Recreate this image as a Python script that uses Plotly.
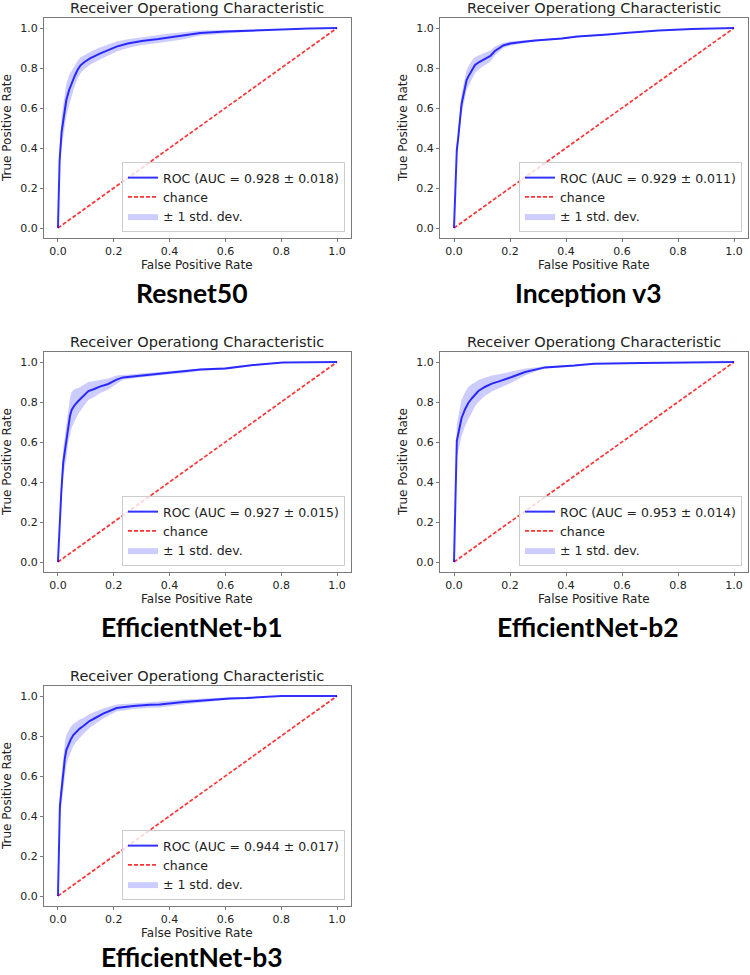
import plotly.graph_objects as go

# ---------------- data ----------------
models = ["Resnet50", "Inception v3", "EfficientNet-b1", "EfficientNet-b2", "EfficientNet-b3"]
roc_labels = [
    "ROC (AUC = 0.928 ± 0.018)",
    "ROC (AUC = 0.929 ± 0.011)",
    "ROC (AUC = 0.927 ± 0.015)",
    "ROC (AUC = 0.953 ± 0.014)",
    "ROC (AUC = 0.944 ± 0.017)",
]
chance_fpr = [0.0, 1.0]
chance_tpr = [0.0, 1.0]

fpr_resnet50 = [0, 0.006, 0.013, 0.02, 0.03, 0.04, 0.05, 0.06, 0.07, 0.08, 0.095, 0.115, 0.15, 0.18,
                0.21, 0.25, 0.3, 0.36, 0.4, 0.45, 0.51, 0.6, 0.7, 0.8, 0.9, 1.0]
tpr_resnet50 = [0, 0.34, 0.48, 0.55, 0.64, 0.69, 0.73, 0.76, 0.79, 0.812, 0.83, 0.848, 0.872, 0.89,
                0.907, 0.922, 0.935, 0.945, 0.952, 0.962, 0.975, 0.982, 0.988, 0.994, 0.998, 1.0]
std_resnet50 = [0, 0.04, 0.08, 0.08, 0.08, 0.075, 0.06, 0.05, 0.045, 0.04, 0.035, 0.032, 0.03, 0.027,
                0.025, 0.022, 0.02, 0.02, 0.02, 0.018, 0.012, 0.008, 0.005, 0.003, 0.002, 0]

fpr_inception = [0, 0.005, 0.01, 0.015, 0.021, 0.027, 0.033, 0.045, 0.051, 0.065, 0.075, 0.09, 0.11,
                 0.13, 0.146, 0.165, 0.176, 0.2, 0.22, 0.242, 0.29, 0.325, 0.385, 0.44, 0.48, 0.55,
                 0.61, 0.73, 0.85, 1.0]
tpr_inception = [0, 0.2, 0.39, 0.45, 0.54, 0.62, 0.66, 0.74, 0.757, 0.795, 0.815, 0.83, 0.845,
                 0.86, 0.885, 0.905, 0.913, 0.922, 0.927, 0.93, 0.937, 0.94, 0.948, 0.957, 0.96, 0.968,
                 0.975, 0.987, 0.995, 1.0]
std_inception = [0, 0.02, 0.03, 0.04, 0.045, 0.05, 0.05, 0.05, 0.05, 0.045, 0.04, 0.035, 0.032,
                 0.028, 0.022, 0.016, 0.013, 0.011, 0.01, 0.008, 0.005, 0.004, 0.004, 0.004, 0.004, 0.003,
                 0.003, 0.002, 0.002, 0]

fpr_effb1 = [0, 0.006, 0.012, 0.019, 0.025, 0.03, 0.037, 0.043, 0.049, 0.06, 0.073, 0.09, 0.109, 0.13,
             0.15, 0.18, 0.21, 0.233, 0.28, 0.33, 0.41, 0.45, 0.51, 0.6, 0.7, 0.806, 1.0]
tpr_effb1 = [0, 0.21, 0.35, 0.5, 0.56, 0.6, 0.69, 0.73, 0.76, 0.785, 0.805, 0.83, 0.855, 0.865,
             0.877, 0.89, 0.912, 0.923, 0.93, 0.937, 0.948, 0.952, 0.962, 0.968, 0.985, 0.998, 1.0]
std_effb1 = [0, 0.03, 0.05, 0.07, 0.08, 0.085, 0.09, 0.09, 0.09, 0.08, 0.065, 0.055, 0.045, 0.04,
             0.033, 0.028, 0.02, 0.012, 0.01, 0.008, 0.008, 0.008, 0.006, 0.006, 0.004, 0.002, 0]

fpr_effb2 = [0, 0.005, 0.01, 0.018, 0.027, 0.04, 0.051, 0.065, 0.075, 0.087, 0.11, 0.135, 0.158, 0.194,
             0.206, 0.254, 0.29, 0.325, 0.43, 0.48, 0.5, 0.67, 0.85, 0.95, 1.0]
tpr_effb2 = [0, 0.3, 0.605, 0.66, 0.72, 0.765, 0.795, 0.82, 0.837, 0.855, 0.875, 0.892, 0.902, 0.918,
             0.925, 0.95, 0.962, 0.973, 0.982, 0.99, 0.991, 0.995, 0.997, 1.0, 1.0]
std_effb2 = [0, 0.04, 0.08, 0.09, 0.09, 0.085, 0.08, 0.07, 0.06, 0.055, 0.045, 0.04, 0.035, 0.03,
             0.028, 0.018, 0.01, 0.006, 0.004, 0.003, 0.003, 0.002, 0.002, 0, 0]

fpr_effb3 = [0, 0.007, 0.012, 0.019, 0.025, 0.03, 0.037, 0.045, 0.055, 0.065, 0.078, 0.091, 0.113,
             0.127, 0.162, 0.21, 0.27, 0.33, 0.364, 0.45, 0.556, 0.616, 0.675, 0.76, 0.8, 1.0]
tpr_effb3 = [0, 0.45, 0.52, 0.62, 0.69, 0.73, 0.758, 0.78, 0.805, 0.82, 0.837, 0.85, 0.875,
             0.885, 0.912, 0.94, 0.95, 0.956, 0.958, 0.97, 0.982, 0.988, 0.99, 0.998, 1.0, 1.0]
std_effb3 = [0, 0.05, 0.07, 0.08, 0.08, 0.075, 0.07, 0.065, 0.055, 0.05, 0.045, 0.04, 0.035,
             0.032, 0.025, 0.018, 0.015, 0.015, 0.015, 0.012, 0.008, 0.006, 0.004, 0.002, 0, 0]

tick_vals = [0.0, 0.2, 0.4, 0.6, 0.8, 1.0]

series = [
    (fpr_resnet50, tpr_resnet50, std_resnet50),
    (fpr_inception, tpr_inception, std_inception),
    (fpr_effb1, tpr_effb1, std_effb1),
    (fpr_effb2, tpr_effb2, std_effb2),
    (fpr_effb3, tpr_effb3, std_effb3),
]

# ---------------- layout geometry (pixels) ----------------
W, H = 750, 975
col_x = [(44, 351), (440, 748)]
row_y = [(18, 238), (352, 572), (686, 906)]
name_offset = [55, 55, 51]
grid_pos = [(0, 0), (0, 1), (1, 0), (1, 1), (2, 0)]
name_cx = [192, 588]

TXT = "#222222"
FONT = "DejaVu Sans"


def px_x(v):
    return v / W


def px_y(v):
    return 1 - v / H


fig = go.Figure()
annotations = []
layout_axes = {}

for i, (model, label, (fpr, tpr, std)) in enumerate(zip(models, roc_labels, series)):
    r, c = grid_pos[i]
    sfx = "" if i == 0 else str(i + 1)
    xa, ya = "x" + sfx, "y" + sfx
    leg = "legend" if i == 0 else f"legend{i + 1}"

    upper = [min(t + s, 1.0) for t, s in zip(tpr, std)]
    lower = [max(t - s, 0.0) for t, s in zip(tpr, std)]

    fig.add_trace(go.Scatter(x=chance_fpr, y=chance_tpr, mode="lines", name="chance",
                             line=dict(color="rgba(255,0,0,0.8)", width=1.7, dash="4px,2px"),
                             xaxis=xa, yaxis=ya, legend=leg, legendrank=2))
    fig.add_trace(go.Scatter(x=fpr, y=tpr, mode="lines", name=label,
                             line=dict(color="rgba(0,0,255,0.8)", width=2),
                             xaxis=xa, yaxis=ya, legend=leg, legendrank=1))
    fig.add_trace(go.Scatter(x=fpr, y=lower, mode="lines", line=dict(width=0, color="rgba(0,0,255,0)"),
                             showlegend=False, hoverinfo="skip", xaxis=xa, yaxis=ya, legend=leg))
    fig.add_trace(go.Scatter(x=fpr, y=upper, mode="lines", name="± 1 std. dev.",
                             fill="tonexty", fillcolor="rgba(0,0,255,0.2)",
                             line=dict(width=0, color="rgba(0,0,255,0)"),
                             xaxis=xa, yaxis=ya, legend=leg, legendrank=3))

    x0, x1 = col_x[c]
    y0, y1 = row_y[r]
    axis_common = dict(range=[-0.05, 1.05], tickvals=tick_vals, tickformat=".1f",
                       showgrid=False, zeroline=False, showline=True, mirror=True,
                       linecolor="#7a7a7a", linewidth=1, ticks="outside", ticklen=3,
                       tickcolor="#7a7a7a", tickfont=dict(family=FONT, size=11, color=TXT))
    layout_axes["xaxis" + sfx] = dict(domain=[px_x(x0), px_x(x1)], anchor=ya, **axis_common)
    layout_axes["yaxis" + sfx] = dict(domain=[px_y(y1), px_y(y0)], anchor=xa, **axis_common)

    cx = (x0 + x1) / 2
    annotations.append(dict(text="Receiver Operationg Characteristic", x=px_x(cx), y=px_y(y0 - 10),
                            xref="paper", yref="paper", showarrow=False, xanchor="center", yanchor="middle",
                            font=dict(family=FONT, size=14.5, color=TXT)))
    annotations.append(dict(text="False Positive Rate", x=px_x(cx), y=px_y(y1 + 27),
                            xref="paper", yref="paper", showarrow=False, xanchor="center", yanchor="middle",
                            font=dict(family=FONT, size=12, color=TXT)))
    annotations.append(dict(text="True Positive Rate", x=px_x(x0 - 37), y=px_y((y0 + y1) / 2),
                            xref="paper", yref="paper", showarrow=False, xanchor="center", yanchor="middle",
                            textangle=-90, font=dict(family=FONT, size=12, color=TXT)))
    annotations.append(dict(text=f"<b>{model}</b>", x=px_x(name_cx[c]), y=px_y(y1 + name_offset[r]),
                            xref="paper", yref="paper", showarrow=False, xanchor="center", yanchor="middle",
                            font=dict(family="Lato", size=26.5, color="#000000")))

    layout_axes[leg] = dict(x=px_x(x1 - 6), y=px_y(y1 - 6), xanchor="right", yanchor="bottom",
                            xref="paper", yref="paper",
                            bgcolor="rgba(255,255,255,0.8)", bordercolor="#cccccc", borderwidth=1,
                            font=dict(family=FONT, size=12.5, color=TXT), traceorder="normal",
                            itemwidth=30, tracegroupgap=0)

fig.update_layout(width=W, height=H, margin=dict(l=0, r=0, t=0, b=0),
                  paper_bgcolor="white", plot_bgcolor="white",
                  font=dict(family=FONT, color=TXT), annotations=annotations,
                  **layout_axes)

fig.write_html("out.html", config={"displayModeBar": False},
               post_script="document.body.style.margin='0';document.body.style.overflow='hidden';")
